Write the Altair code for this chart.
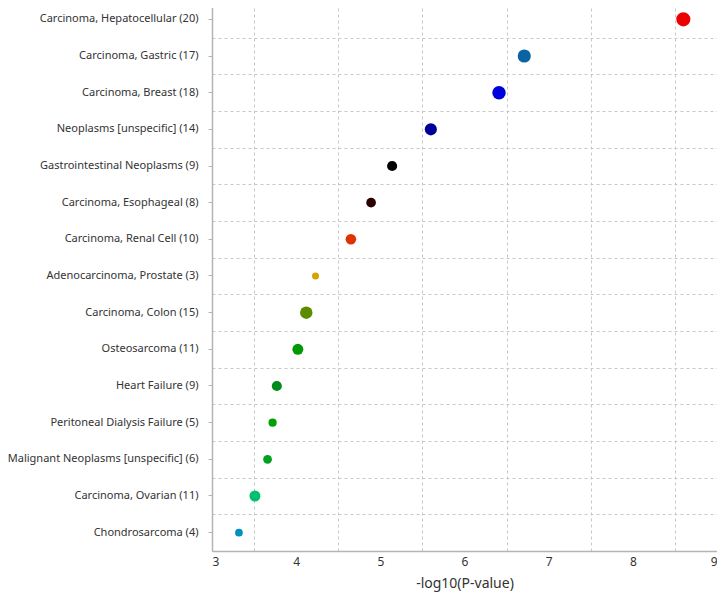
import altair as alt
import pandas as pd

categories = [
    "Carcinoma, Hepatocellular (20)",
    "Carcinoma, Gastric (17)",
    "Carcinoma, Breast (18)",
    "Neoplasms [unspecific] (14)",
    "Gastrointestinal Neoplasms (9)",
    "Carcinoma, Esophageal (8)",
    "Carcinoma, Renal Cell (10)",
    "Adenocarcinoma, Prostate (3)",
    "Carcinoma, Colon (15)",
    "Osteosarcoma (11)",
    "Heart Failure (9)",
    "Peritoneal Dialysis Failure (5)",
    "Malignant Neoplasms [unspecific] (6)",
    "Carcinoma, Ovarian (11)",
    "Chondrosarcoma (4)",
]
neg_log_p = [8.60, 6.71, 6.41, 5.60, 5.14, 4.89, 4.65, 4.23, 4.12, 4.02, 3.77, 3.72, 3.66, 3.51, 3.32]
gene_counts = [20, 17, 18, 14, 9, 8, 10, 3, 15, 11, 9, 5, 6, 11, 4]
dot_colors = [
    "#ee0000", "#0a64a4", "#0000dd", "#000099", "#000000",
    "#2a0000", "#e03200", "#d9a200", "#5a8c00", "#009a00",
    "#008c1a", "#00a000", "#00a020", "#00c070", "#0090c0",
]
x_ticks = [3, 4, 5, 6, 7, 8, 9]
x_grid = [3.5, 4.5, 5.5, 6.5, 7.5, 8.5, 9]

df = pd.DataFrame({"term": categories, "value": neg_log_p, "count": gene_counts})

font = "Noto Sans"
grid_color = "#c8c8c8"

x_scale = alt.Scale(domain=[3, 9], nice=False, zero=False)
y_scale = alt.Scale(type="band", domain=categories, paddingInner=0, paddingOuter=0)

grid_layer = alt.Chart(df).mark_point(opacity=0).encode(
    x=alt.X("value:Q", scale=x_scale,
            axis=alt.Axis(orient="bottom", values=x_grid, grid=True, labels=False,
                          ticks=False, domain=False, title=None,
                          gridColor=grid_color, gridDash=[3, 3], gridWidth=1)),
    y=alt.Y("term:N", scale=y_scale,
            axis=alt.Axis(orient="left", tickBand="extent", grid=True, labels=False,
                          ticks=False, domain=False, title=None,
                          gridColor=grid_color, gridDash=[3, 3], gridWidth=1)),
)

points = alt.Chart(df).mark_circle(opacity=1).encode(
    x=alt.X("value:Q", scale=x_scale,
            axis=alt.Axis(orient="bottom", values=x_ticks, grid=False, ticks=False,
                          domainColor="#b4b4b4", domainWidth=1.5,
                          labelFont=font, labelFontSize=12, labelColor="#333333",
                          labelPadding=5, title="-log10(P-value)", titleFont=font,
                          titleFontSize=14, titleFontWeight="normal", titleColor="#333333",
                          titlePadding=9)),
    y=alt.Y("term:N", scale=y_scale,
            axis=alt.Axis(orient="left", grid=False, ticks=True, tickSize=4,
                          tickColor="#b4b4b4", domainColor="#b4b4b4", domainWidth=1.5,
                          labelFont=font, labelFontSize=11, labelColor="#333333",
                          labelPadding=10, labelLimit=400, title=None)),
    color=alt.Color("term:N", scale=alt.Scale(domain=categories, range=dot_colors), legend=None),
    size=alt.Size("count:Q", scale=alt.Scale(domain=[3, 20], range=[50, 200]), legend=None),
)

chart = alt.layer(grid_layer, points).resolve_axis(x="independent", y="independent").properties(
    width=505, height=550,
    autosize=alt.AutoSizeParams(type="none"),
    padding={"left": 204, "top": -7, "right": 0, "bottom": 47},
).configure_view(stroke=None)

chart.save("out.html", embed_options={"renderer": "svg", "actions": False})
